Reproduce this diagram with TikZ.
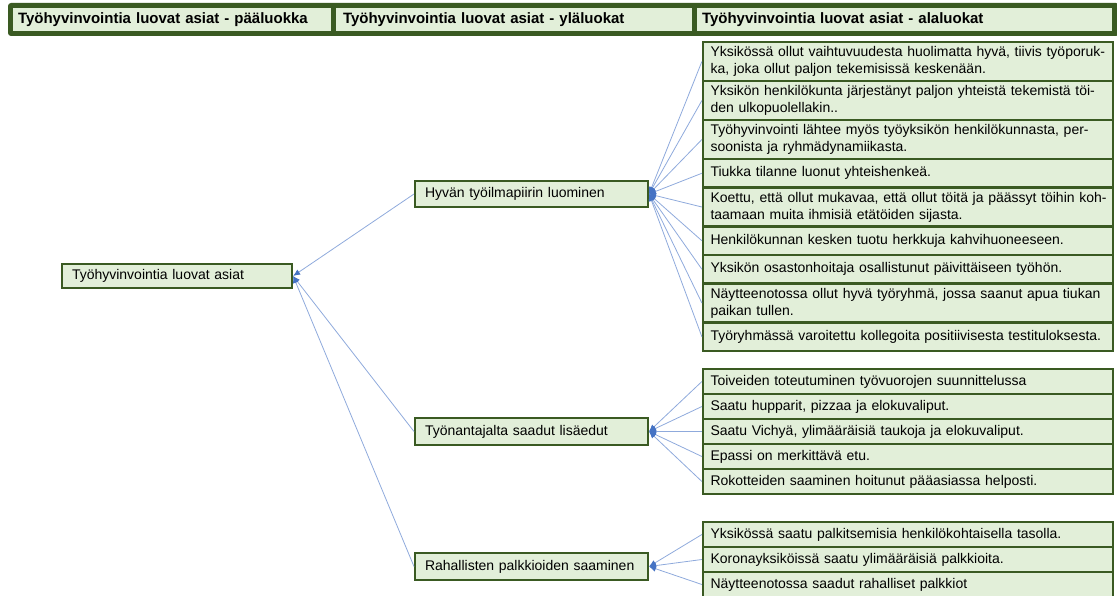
\documentclass[tikz,border=0pt]{standalone}
\usepackage{fontspec}
\setmainfont{Liberation Sans}
\usetikzlibrary{arrows.meta}

\definecolor{boxfill}{HTML}{E2EFD9}
\definecolor{boxline}{HTML}{3A5A22}
\definecolor{linkline}{HTML}{8FAADC}
\definecolor{linktip}{HTML}{4472C4}

\begin{document}
\begin{tikzpicture}[x=1pt,y=-1pt,
  every node/.style={font=\fontsize{14}{17}\selectfont},
  box/.style={draw=boxline, fill=boxfill, line width=2.2pt, inner ysep=0pt, align=left},
  leaf/.style={box, text width=395pt, inner xsep=7.5pt},
  mid/.style={box, line width=2pt, text width=213pt, inner xsep=10pt},
  headcell/.style={fill=boxfill, inner ysep=0pt, align=left, minimum height=23pt,
    font=\bfseries\fontsize{15}{17}\selectfont},
  link/.style={draw=linkline, line width=0.8pt,
    -{Latex[length=7pt,width=6pt,color=linktip]}}
]
\useasboundingbox (0,0) rectangle (1117,596);

% column headings
\fill[boxline, rounded corners=3pt] (8,3) rectangle (1119,36);
\node[headcell, inner xsep=5pt, text width=308pt] (h1) at (172,19.5) {Työhyvinvointia luovat asiat - pääluokka};
\node[headcell, inner xsep=7pt, text width=342pt] (h2) at (514,19.5) {Työhyvinvointia luovat asiat - yläluokat};
\node[headcell, inner xsep=5pt, text width=405pt] (h3) at (904.5,19.5) {Työhyvinvointia luovat asiat - alaluokat};

% main category
\node[box, line width=2.2pt, text width=210pt, inner xsep=10pt, minimum height=24pt] (root) at (177,276) {Työhyvinvointia luovat asiat};

% upper categories
\node[mid, minimum height=26pt] (m1) at (531.5,194) {Hyvän työilmapiirin luominen};
\node[mid, minimum height=27pt] (m2) at (531.5,431.5) {Työnantajalta saadut lisäedut};
\node[mid, minimum height=27pt] (m3) at (531.5,566.5) {Rahallisten palkkioiden saaminen};

% subcategories: work atmosphere
\node[leaf, minimum height=39pt]   (a1) at (908,61.5)   {\mbox{Yksikössä ollut vaihtuvuudesta huolimatta hyvä, tiivis työporuk-}\\ka, joka ollut paljon tekemisissä keskenään.};
\node[leaf, minimum height=39pt]   (a2) at (908,100.5)  {\mbox{Yksikön henkilökunta järjestänyt paljon yhteistä tekemistä töi-}\\den ulkopuolellakin..};
\node[leaf, minimum height=39pt]   (a3) at (908,139.5)  {\mbox{Työhyvinvointi lähtee myös työyksikön henkilökunnasta, per-}\\soonista ja ryhmädynamiikasta.};
\node[leaf, minimum height=28.5pt] (a4) at (908,173.25) {Tiukka tilanne luonut yhteishenkeä.};
\node[leaf, minimum height=39pt]   (a5) at (908,207)    {\mbox{Koettu, että ollut mukavaa, että ollut töitä ja päässyt töihin koh-}\\taamaan muita ihmisiä etätöiden sijasta.};
\node[leaf, minimum height=28.5pt] (a6) at (908,240.75) {Henkilökunnan kesken tuotu herkkuja kahvihuoneeseen.};
\node[leaf, minimum height=28.5pt] (a7) at (908,269.25) {Yksikön osastonhoitaja osallistunut päivittäiseen työhön.};
\node[leaf, minimum height=39pt]   (a8) at (908,303)    {\mbox{Näytteenotossa ollut hyvä työryhmä, jossa saanut apua tiukan}\\paikan tullen.};
\node[leaf, minimum height=28.5pt] (a9) at (908,336.75) {\mbox{Työryhmässä varoitettu kollegoita positiivisesta testituloksesta.}};

% subcategories: employer benefits
\node[leaf, minimum height=25pt] (b1) at (908,381.5) {Toiveiden toteutuminen työvuorojen suunnittelussa};
\node[leaf, minimum height=25pt] (b2) at (908,406.5) {Saatu hupparit, pizzaa ja elokuvaliput.};
\node[leaf, minimum height=25pt] (b3) at (908,431.5) {Saatu Vichyä, ylimääräisiä taukoja ja elokuvaliput.};
\node[leaf, minimum height=25pt] (b4) at (908,456.5) {Epassi on merkittävä etu.};
\node[leaf, minimum height=25pt] (b5) at (908,481.5) {Rokotteiden saaminen hoitunut pääasiassa helposti.};

% subcategories: monetary rewards
\node[leaf, minimum height=25pt] (c1) at (908,534.5) {Yksikössä saatu palkitsemisia henkilökohtaisella tasolla.};
\node[leaf, minimum height=25pt] (c2) at (908,559.5) {Koronayksiköissä saatu ylimääräisiä palkkioita.};
\node[leaf, minimum height=25pt] (c3) at (908,584.5) {Näytteenotossa saadut rahalliset palkkiot};

% connectors, child to parent
\foreach \m in {m1,m2,m3} \draw[link] (\m.west) -- (root.east);
\foreach \a in {a1,a2,a3,a4,a5,a6,a7,a8,a9} \draw[link] (\a.west) -- (m1.east);
\foreach \b in {b1,b2,b3,b4,b5} \draw[link] (\b.west) -- (m2.east);
\foreach \c in {c1,c2,c3} \draw[link] (\c.west) -- (m3.east);
\end{tikzpicture}
\end{document}
